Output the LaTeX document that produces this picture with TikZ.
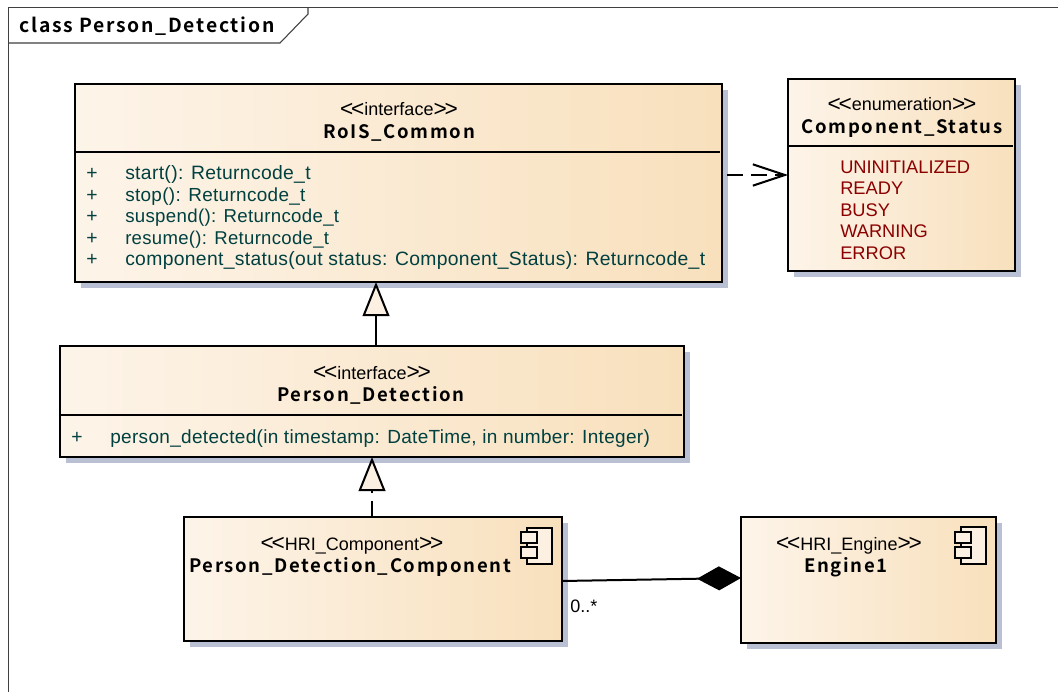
\documentclass[tikz,border=0pt]{standalone}
\usepackage{fontspec}
\setmainfont{Liberation Sans}
\newfontfamily\boldf[LetterSpace=9]{Noto Sans CJK JP Bold}
\newfontfamily\operf[LetterSpace=1.7]{Liberation Sans}
\usetikzlibrary{arrows.meta,shadows,calc}
\definecolor{fillL}{HTML}{FDF4E9}
\definecolor{fillR}{HTML}{F8E0BC}
\definecolor{shadowc}{HTML}{BAC0D4}
\definecolor{opcol}{HTML}{004040}
\definecolor{enumcol}{HTML}{8B0000}
\definecolor{framec}{HTML}{404040}
\definecolor{triF}{HTML}{FBF0E2}
\newcommand{\umlbox}[5]{%
  \pgfmathsetmacro{\bw}{(#4-#2)*0.75}\pgfmathsetmacro{\bh}{(#5-#3)*0.75}%
  \node[umlshape,minimum width=\bw pt,minimum height=\bh pt] (#1) at ({(#2+#4)/2},{(#3+#5)/2}) {};}
\newcommand{\stl}{{\fontsize{17pt}{15pt}\selectfont\raisebox{-0.6pt}{<}\kern-1.6pt\raisebox{-0.6pt}{<}}}
\newcommand{\str}{{\fontsize{17pt}{15pt}\selectfont\raisebox{-0.6pt}{>}\kern-1.6pt\raisebox{-0.6pt}{>}}}
\tikzset{
  x=0.75pt,y=-0.75pt,
  umlshape/.style={draw=black,line width=1.5pt*0.75,inner sep=0pt,outer sep=0pt,shading=axis,left color=fillL,right color=fillR,shading angle=90,
    drop shadow={shadow xshift=4.5pt,shadow yshift=-4.5pt,fill=shadowc,opacity=1}},
  stereo/.style={font=\fontsize{13.5pt}{15pt}\selectfont,anchor=base,inner sep=0pt},
  cname/.style={font=\fontsize{13.9pt}{15pt}\boldf,anchor=base,inner sep=0pt},
  oper/.style={font=\fontsize{#1}{15pt}\operf,text=opcol,anchor=base west,inner sep=0pt},
  oper/.default=14.5pt,
  enumv/.style={font=\fontsize{13.7pt}{15pt}\selectfont,text=enumcol,anchor=base west,inner sep=0pt},
  divider/.style={line width=1.5pt},
  conn/.style={line width=1.5pt,draw=black},
  dashpat/.style={dash pattern=on 12pt off 6pt},
  gen/.style={-{Triangle[open,fill=triF,length=25.5pt,width=20pt,line width=1.5pt]}},
  dep/.style={-{Straight Barb[length=24pt,width=16pt,line width=1.5pt]}},
  comp/.style={{Diamond[length=33pt,width=18pt,fill=black]}-},
  icon/.style={draw=black,line width=1.1pt,fill=triF},
}
\begin{document}
\begin{tikzpicture}
\useasboundingbox (0,0) rectangle (1058,692);
\fill[white] (0,0) rectangle (1058,692);
% frame
\draw[framec,line width=0.8pt] (8.5,692) -- (8.5,7.5) -- (1058,7.5);
\draw[framec,line width=0.8pt] (8.5,43) -- (280,43) -- (308,14) -- (308,7.5);
\node[font=\fontsize{14.5pt}{16pt}\boldf,anchor=base west,inner sep=0pt] (frametitle) at (19,33) {class Person\_Detection};

% boxes
\umlbox{rois}{75}{84}{722}{282}
\umlbox{status}{788}{79}{1015}{271}
\umlbox{pd}{60}{346}{684}{457}
\umlbox{pdc}{184}{517}{562}{641}
\umlbox{eng}{741}{517}{996}{643}

% dividers
\draw[divider] (76,152.5) -- (720,152.5);
\draw[divider] (789,146) -- (1013,146);
\draw[divider] (61,414.5) -- (682,414.5);

% RoIS_Common
\node[stereo] (r1) at (399,116) {\stl interface\str};
\node[cname] (r2) at (399,138) {RoIS\_Common};
\node[oper] (ra1) at (86,180) {+};
\node[oper] (ra2) at (86,201) {+};
\node[oper] (ra3) at (86,222) {+};
\node[oper] (ra4) at (86,244) {+};
\node[oper] (ra5) at (86,265) {+};
\node[oper] (rb1) at (125,180) {start(): Returncode\_t};
\node[oper=14.2pt] (rb2) at (125,201) {stop(): Returncode\_t};
\node[oper=14pt] (rb3) at (125,222) {suspend(): Returncode\_t};
\node[oper=13.9pt] (rb4) at (125,244) {resume(): Returncode\_t};
\node[oper] (rb5) at (125,265) {component\_status(out status: Component\_Status): Returncode\_t};

% Component_Status
\node[stereo] (s1) at (902,111) {\stl enumeration\str};
\node[cname] (s2) at (902,134) {Component\_Status};
\node[enumv] (s3) at (840,173) {UNINITIALIZED};
\node[enumv] (s4) at (840,195) {READY};
\node[enumv] (s5) at (840,216) {BUSY};
\node[enumv] (s6) at (840,237) {WARNING};
\node[enumv] (s7) at (840,259) {ERROR};

% Person_Detection
\node[stereo] (p1) at (372,379) {\stl interface\str};
\node[cname] (p2) at (371,401) {Person\_Detection};
\node[oper] (pa) at (71,443) {+};
\node[oper=14.25pt] (pb) at (110,443) {person\_detected(in timestamp: DateTime, in number: Integer)};

% Person_Detection_Component
\node[stereo] (c1) at (352,550) {\stl HRI\_Component\str};
\node[cname] (c2) at (350,572) {Person\_Detection\_Component};
\draw[icon] (527,528) rectangle (552,564);
\draw[icon] (521,532) rectangle (537,543);
\draw[icon] (521,547) rectangle (537,558);

% Engine1
\node[stereo] (e1) at (849,550) {\stl HRI\_Engine\str};
\node[cname] (e2) at (846,572) {Engine1};
\draw[icon] (961,527) rectangle (986,564);
\draw[icon] (955,532) rectangle (971,543);
\draw[icon] (955,547) rectangle (971,558);

% connectors
\draw[conn,gen] ([xshift=3pt]pd.north) -- ([xshift=3pt]pd.north |- rois.south);
\draw[conn,gen,dashpat] (pdc.north -| pd.north) -- (pd.south);
\coordinate (depstart) at ([xshift=3.75pt,yshift=6pt]rois.east);
\draw[conn,dep,dashpat] (depstart) -- (depstart -| status.west);
\draw[conn,comp] ([yshift=1.5pt]eng.west) -- ([yshift=-1.5pt]pdc.east);
\node[font=\fontsize{13.5pt}{15pt}\selectfont,anchor=base west,inner sep=0pt] (mult) at (570,612) {0..*};
\end{tikzpicture}
\end{document}
